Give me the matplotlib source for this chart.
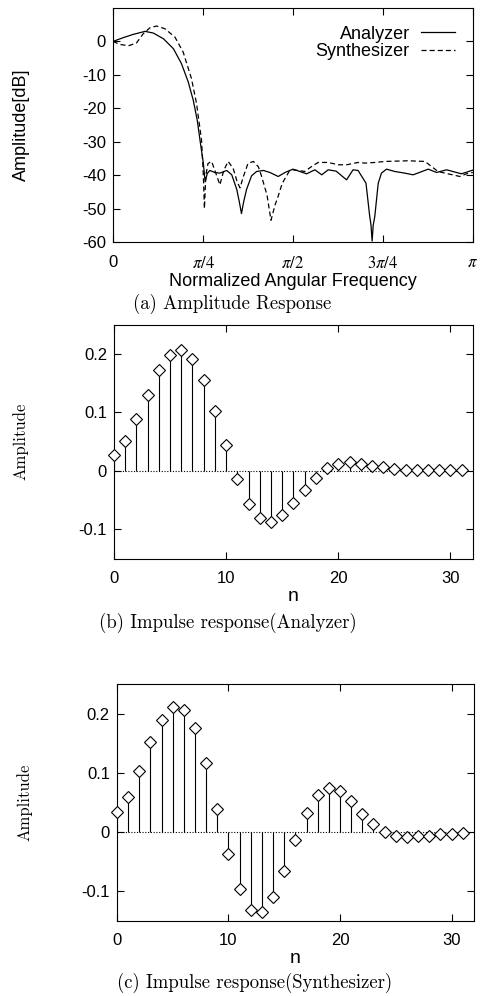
import matplotlib
matplotlib.use('Agg')
import matplotlib.pyplot as plt
import numpy as np

plt.rcParams['font.family'] = 'Liberation Sans'
plt.rcParams['mathtext.fontset'] = 'stix'
plt.rcParams['axes.unicode_minus'] = False

# (a) amplitude response, frequency given as a fraction of pi
freq_ana = [0.0, 0.028, 0.056, 0.089, 0.112, 0.14, 0.168, 0.19, 0.209, 0.223, 0.234,
            0.243, 0.251, 0.256, 0.262, 0.269, 0.283, 0.297, 0.316, 0.33, 0.344, 0.351,
            0.357, 0.363, 0.371, 0.385, 0.399, 0.418, 0.436, 0.459, 0.478, 0.5, 0.519,
            0.538, 0.561, 0.58, 0.598, 0.62, 0.649, 0.667, 0.681, 0.703, 0.713, 0.717,
            0.72, 0.723, 0.7275, 0.737, 0.746, 0.76, 0.783, 0.811, 0.834, 0.876, 0.899,
            0.927, 0.968, 1.0]
amp_ana = [0.0, 1.1, 2.1, 3.0, 2.5, 0.8, -2.2, -6.6, -12.1, -17.6, -23.5,
           -30.5, -36.4, -42.0, -39.5, -38.6, -39.2, -39.4, -38.6, -39.9, -44.3, -48.0,
           -51.5, -48.0, -44.3, -40.2, -38.9, -38.6, -39.2, -40.4, -39.2, -38.2, -38.9,
           -39.6, -38.4, -39.9, -38.4, -38.8, -41.4, -38.4, -38.6, -42.4, -52.0, -55.0,
           -59.7, -55.0, -52.3, -42.4, -39.4, -38.2, -38.9, -39.4, -39.9, -38.2, -39.2,
           -38.4, -39.6, -38.5]
freq_syn = [0.0, 0.019, 0.043, 0.065, 0.084, 0.103, 0.121, 0.144, 0.172, 0.195, 0.218,
            0.232, 0.246, 0.251, 0.254, 0.258, 0.264, 0.274, 0.286, 0.297, 0.308, 0.32,
            0.334, 0.345, 0.353, 0.362, 0.375, 0.39, 0.404, 0.413, 0.428, 0.439, 0.45,
            0.459, 0.47, 0.478, 0.49, 0.5, 0.515, 0.533, 0.552, 0.57, 0.598, 0.626,
            0.649, 0.681, 0.7, 0.728, 0.756, 0.82, 0.867, 0.885, 0.903, 0.931, 0.964,
            0.982, 1.0]
amp_syn = [0.0, -0.9, -1.3, -0.5, 2.3, 4.1, 4.6, 3.8, 1.3, -3.2, -11.1,
           -18.5, -29.5, -40.0, -50.0, -40.0, -36.5, -35.9, -39.5, -42.9, -38.5, -35.9,
           -38.0, -42.0, -43.8, -40.5, -36.5, -35.9, -37.5, -40.4, -46.0, -53.5, -49.0,
           -46.3, -42.5, -41.0, -38.8, -38.4, -38.6, -38.9, -37.4, -36.2, -36.2, -36.9,
           -36.9, -36.2, -36.4, -36.2, -35.9, -35.7, -35.9, -37.4, -38.9, -39.6, -40.4,
           -39.6, -39.2]
freq_ticks = [0, 0.25, 0.5, 0.75, 1.0]
freq_labels = ['0', r'$\pi/4$', r'$\pi/2$', r'$3\pi/4$', r'$\pi$']

# (b), (c) impulse responses
n = list(range(32))
h_ana = [0.028, 0.052, 0.089, 0.129, 0.172, 0.198, 0.206, 0.192, 0.155, 0.103, 0.044,
         -0.013, -0.056, -0.081, -0.088, -0.076, -0.055, -0.033, -0.012, 0.005, 0.012,
         0.016, 0.012, 0.009, 0.006, 0.004, 0.002, 0.002, 0.001, 0.001, 0.001, 0.001]
h_syn = [0.034, 0.060, 0.103, 0.153, 0.189, 0.212, 0.207, 0.176, 0.116, 0.039, -0.037,
         -0.097, -0.132, -0.135, -0.110, -0.066, -0.013, 0.033, 0.062, 0.074, 0.069,
         0.053, 0.031, 0.013, 0.000, -0.007, -0.009, -0.007, -0.006, -0.004, -0.003, -0.001]

fig = plt.figure(figsize=(4.85, 9.96), dpi=100)


def style_axes(ax):
    for s in ax.spines.values():
        s.set_linewidth(0.8)
    ax.tick_params(direction='in', top=True, right=True, length=5, width=0.8,
                   labelsize=12)
    ax.tick_params(axis='x', pad=9)
    ax.tick_params(axis='y', pad=5)


# amplitude response
ax1 = fig.add_axes([0.233, 0.757, 0.742, 0.235])
ax1.plot(freq_ana, amp_ana, color='black', lw=0.9, label='Analyzer')
ax1.plot(freq_syn, amp_syn, color='black', lw=0.9, dashes=(4, 2.5), label='Synthesizer')
ax1.set_xlim(0, 1)
ax1.set_ylim(-60, 10)
ax1.set_xticks(freq_ticks)
ax1.set_xticklabels(freq_labels, fontsize=14)
ax1.set_yticks(range(-60, 1, 10))
style_axes(ax1)
ax1.set_xlabel('Normalized Angular Frequency', fontsize=13, labelpad=2)
ax1.set_ylabel('Amplitude[dB]', fontsize=13)
ax1.yaxis.set_label_coords(-0.23, 0.5)
ax1.legend(loc='upper right', bbox_to_anchor=(0.95, 0.925), frameon=False,
           markerfirst=False, fontsize=13, handlelength=1.9, handletextpad=0.6,
           labelspacing=0.05, borderpad=0, borderaxespad=0)

fig.text(0.479, 0.695, '(a) Amplitude Response', ha='center', va='center',
         family='cmr10', fontsize=13.5)


def impulse(ax, h):
    ax.axhline(0, color='black', lw=0.8, ls=(0, (1, 1.5)))
    ax.vlines(n, 0, h, color='black', lw=0.8)
    ax.plot(n, h, ls='none', marker='D', ms=6.2, mfc='white', mec='black', mew=0.8,
            clip_on=False, zorder=3)
    ax.set_xlim(0, 32)
    ax.set_ylim(-0.15, 0.25)
    ax.set_xticks([0, 10, 20, 30])
    ax.set_yticks([-0.1, 0, 0.1, 0.2])
    ax.set_yticklabels(['-0.1', '0', '0.1', '0.2'])
    style_axes(ax)
    ax.set_xlabel('n', fontsize=14, labelpad=1)
    ax.set_ylabel('Amplitude', family='cmr10', fontsize=12)
    ax.yaxis.set_label_coords(-0.237, 0.5)


ax2 = fig.add_axes([0.235, 0.439, 0.740, 0.235])
impulse(ax2, h_ana)
fig.text(0.469, 0.3745, '(b) Impulse response(Analyzer)', ha='center', va='center',
         family='cmr10', fontsize=13.5)

ax3 = fig.add_axes([0.241, 0.0756, 0.736, 0.2374])
impulse(ax3, h_syn)
fig.text(0.524, 0.013, '(c) Impulse response(Synthesizer)', ha='center', va='center',
         family='cmr10', fontsize=13.5)

fig.savefig('out.png', dpi=100)
